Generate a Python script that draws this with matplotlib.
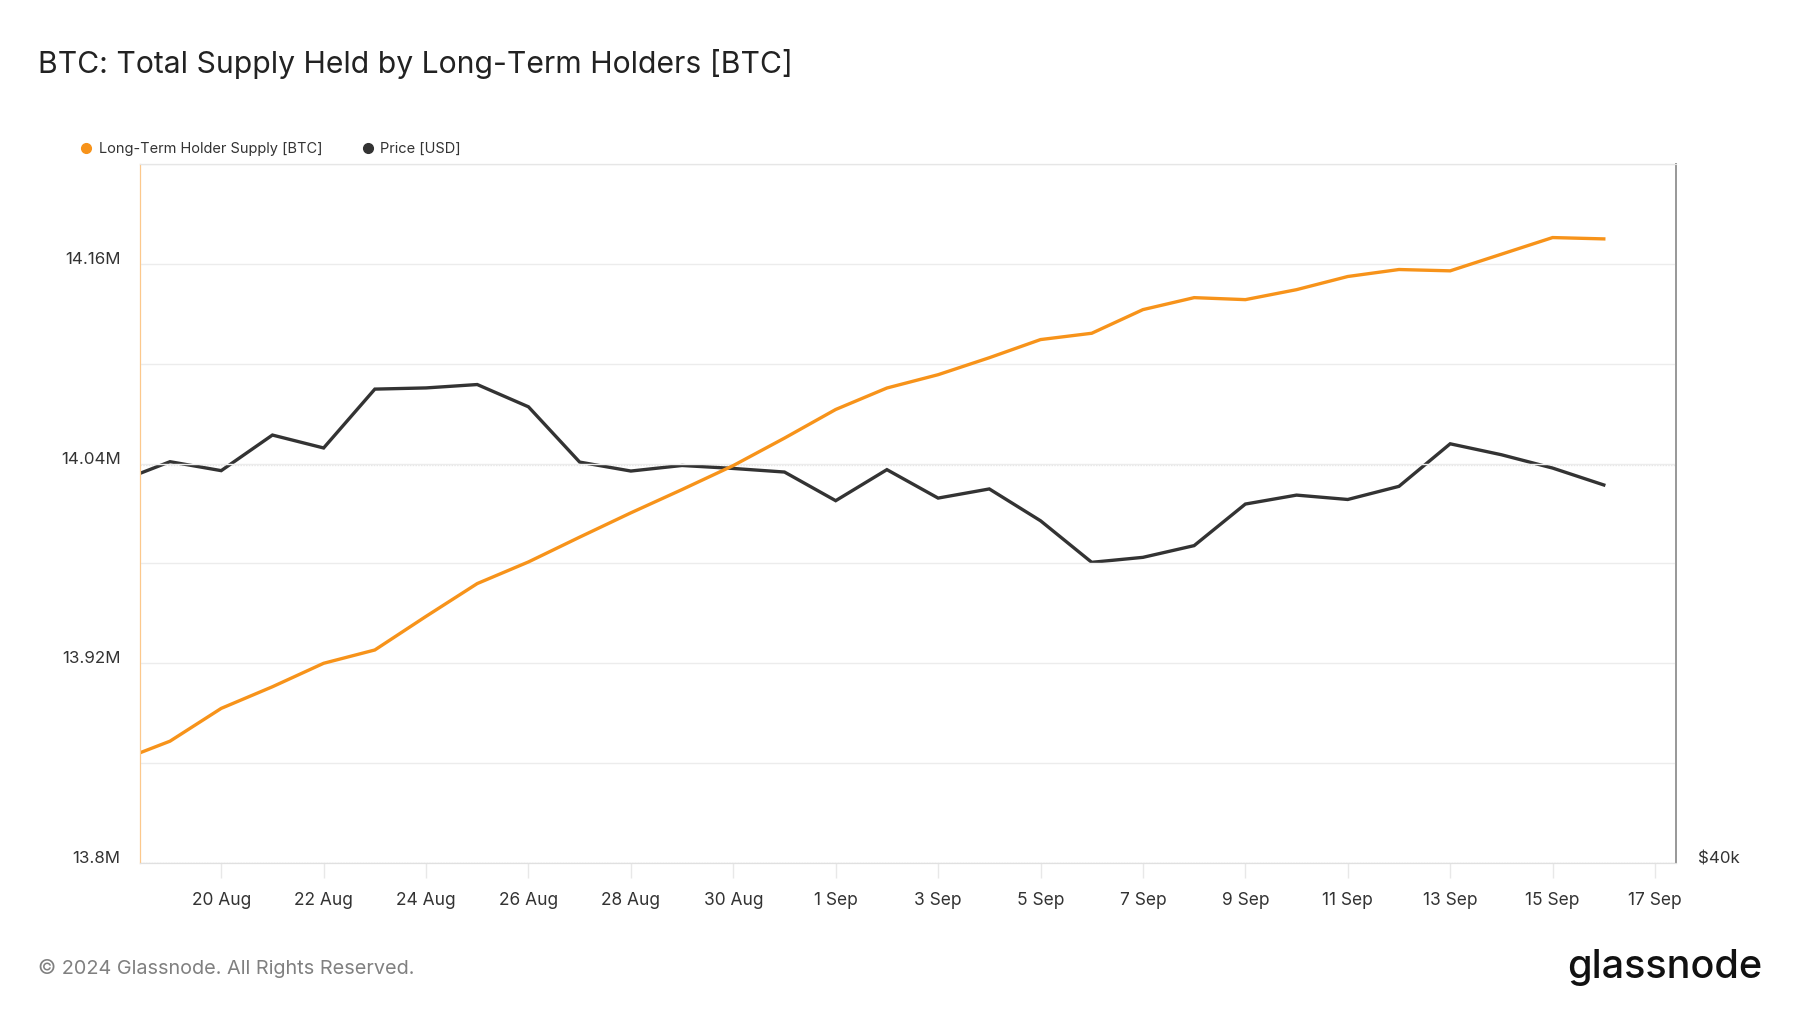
import pandas as pd
import matplotlib.pyplot as plt
import matplotlib.dates as mdates
import matplotlib.transforms as mtransforms
from matplotlib.lines import Line2D
from matplotlib.ticker import FuncFormatter

plt.rcParams['font.family'] = ['Inter', 'DejaVu Sans']

# daily values, 18 Aug - 16 Sep 2024
dates = pd.date_range('2024-08-18', '2024-09-16', freq='D')
lth_supply = [13.8613, 13.8732, 13.8929, 13.9059, 13.9200, 13.9280, 13.9482, 13.9679,
              13.9809, 13.9958, 14.0104, 14.0244, 14.0388, 14.0553, 14.0725, 14.0854,
              14.0934, 14.1036, 14.1145, 14.1183, 14.1325, 14.1397, 14.1385, 14.1445,
              14.1524, 14.1566, 14.1558, 14.1658, 14.1758, 14.1750]
price = [59180, 60180, 59730, 61520, 60870, 63830, 63890, 64060, 62940, 60160,
         59710, 59990, 59840, 59660, 58220, 59780, 58350, 58810, 57210, 55120,
         55370, 55960, 58050, 58500, 58280, 58940, 61080, 60530, 59860, 59010]

supply_ticks = [13.8, 13.86, 13.92, 13.98, 14.04, 14.1, 14.16, 14.22]
supply_labels = ['13.8M', '', '13.92M', '', '14.04M', '', '14.16M', '']

orange = '#f7931a'
dark = '#333333'

fig = plt.figure(figsize=(18, 10.13), dpi=100)
ax = fig.add_axes([140 / 1800, 150 / 1013, 1536 / 1800, 699 / 1013])
ax2 = ax.twinx()

ax2.plot(dates, price, color=dark, lw=2.4, solid_joinstyle='miter')
ax.plot(dates, lth_supply, color=orange, lw=2.4, solid_joinstyle='miter')
ax.set_zorder(ax2.get_zorder() + 1)
ax.patch.set_visible(False)

ax.set_ylim(13.8, 14.22)
ax.set_yticks(supply_ticks)
ax.set_yticklabels(supply_labels)
ax.grid(axis='y', color='#ececec', lw=1)
ax.grid(axis='x', visible=False)

ax2.set_ylim(40000, 75150)
ax2.set_yticks([40000, 60000])
ax2.set_yticklabels(['$40k', ''])
ax2.grid(axis='y', color='#e6e6e6', lw=1, ls=(0, (1, 1)))

x0 = pd.Timestamp('2024-08-19')
ax.set_xlim(x0 - pd.Timedelta(days=0.586), x0 + pd.Timedelta(days=29.41))
ax.xaxis.set_major_locator(mdates.DayLocator(bymonthday=[20, 22, 24, 26, 28, 30, 1, 3, 5, 7, 9, 11, 13, 15, 17]))
ax.xaxis.set_major_formatter(FuncFormatter(lambda v, p: mdates.num2date(v).strftime('%-d %b')))

ax.tick_params(axis='y', length=0, pad=14, labelsize=12.2, labelcolor='#333333')
ax.tick_params(axis='x', length=11, width=1, color='#e8e8e8', pad=10, labelsize=12.5, labelcolor='#333333')
ax2.tick_params(axis='y', length=0, pad=16, labelsize=12.2, labelcolor='#333333')

# labels sit a little above their gridlines
shift = mtransforms.ScaledTranslation(0, 6 / 100, fig.dpi_scale_trans)
for lab in ax.get_yticklabels() + ax2.get_yticklabels():
    lab.set_transform(lab.get_transform() + shift)

for a in (ax, ax2):
    a.spines['top'].set_color('#e6e6e6')
    a.spines['bottom'].set_color('#e0e0e0')
    a.spines['left'].set_color('#fcc88c')
    a.spines['right'].set_color('#9a9a9a')
    a.spines['right'].set_linewidth(1.4)

fig.text(38 / 1800, 1 - 64 / 1013, 'BTC: Total Supply Held by Long-Term Holders [BTC]',
         fontsize=21.7, color='#222222', va='center', ha='left')

handles = [Line2D([], [], marker='o', ls='', color=orange, markersize=7),
           Line2D([], [], marker='o', ls='', color=dark, markersize=7)]
fig.legend(handles, ['Long-Term Holder Supply [BTC]', 'Price [USD]'], ncol=2,
           loc='center left', bbox_to_anchor=(66 / 1800, 1 - 149 / 1013), frameon=False,
           fontsize=10.5, labelcolor='#333333', handletextpad=0.35, columnspacing=2.6,
           handlelength=1.0)

fig.text(38 / 1800, 1 - 968 / 1013, '\u00a9 2024 Glassnode. All Rights Reserved.',
         fontsize=14.3, color='#808080', va='center', ha='left')
fig.text(1762 / 1800, 1 - 967 / 1013, 'glassnode', fontsize=28.5, color='#111111',
         va='center', ha='right', fontweight='medium')

fig.savefig('out.png', dpi=100)
